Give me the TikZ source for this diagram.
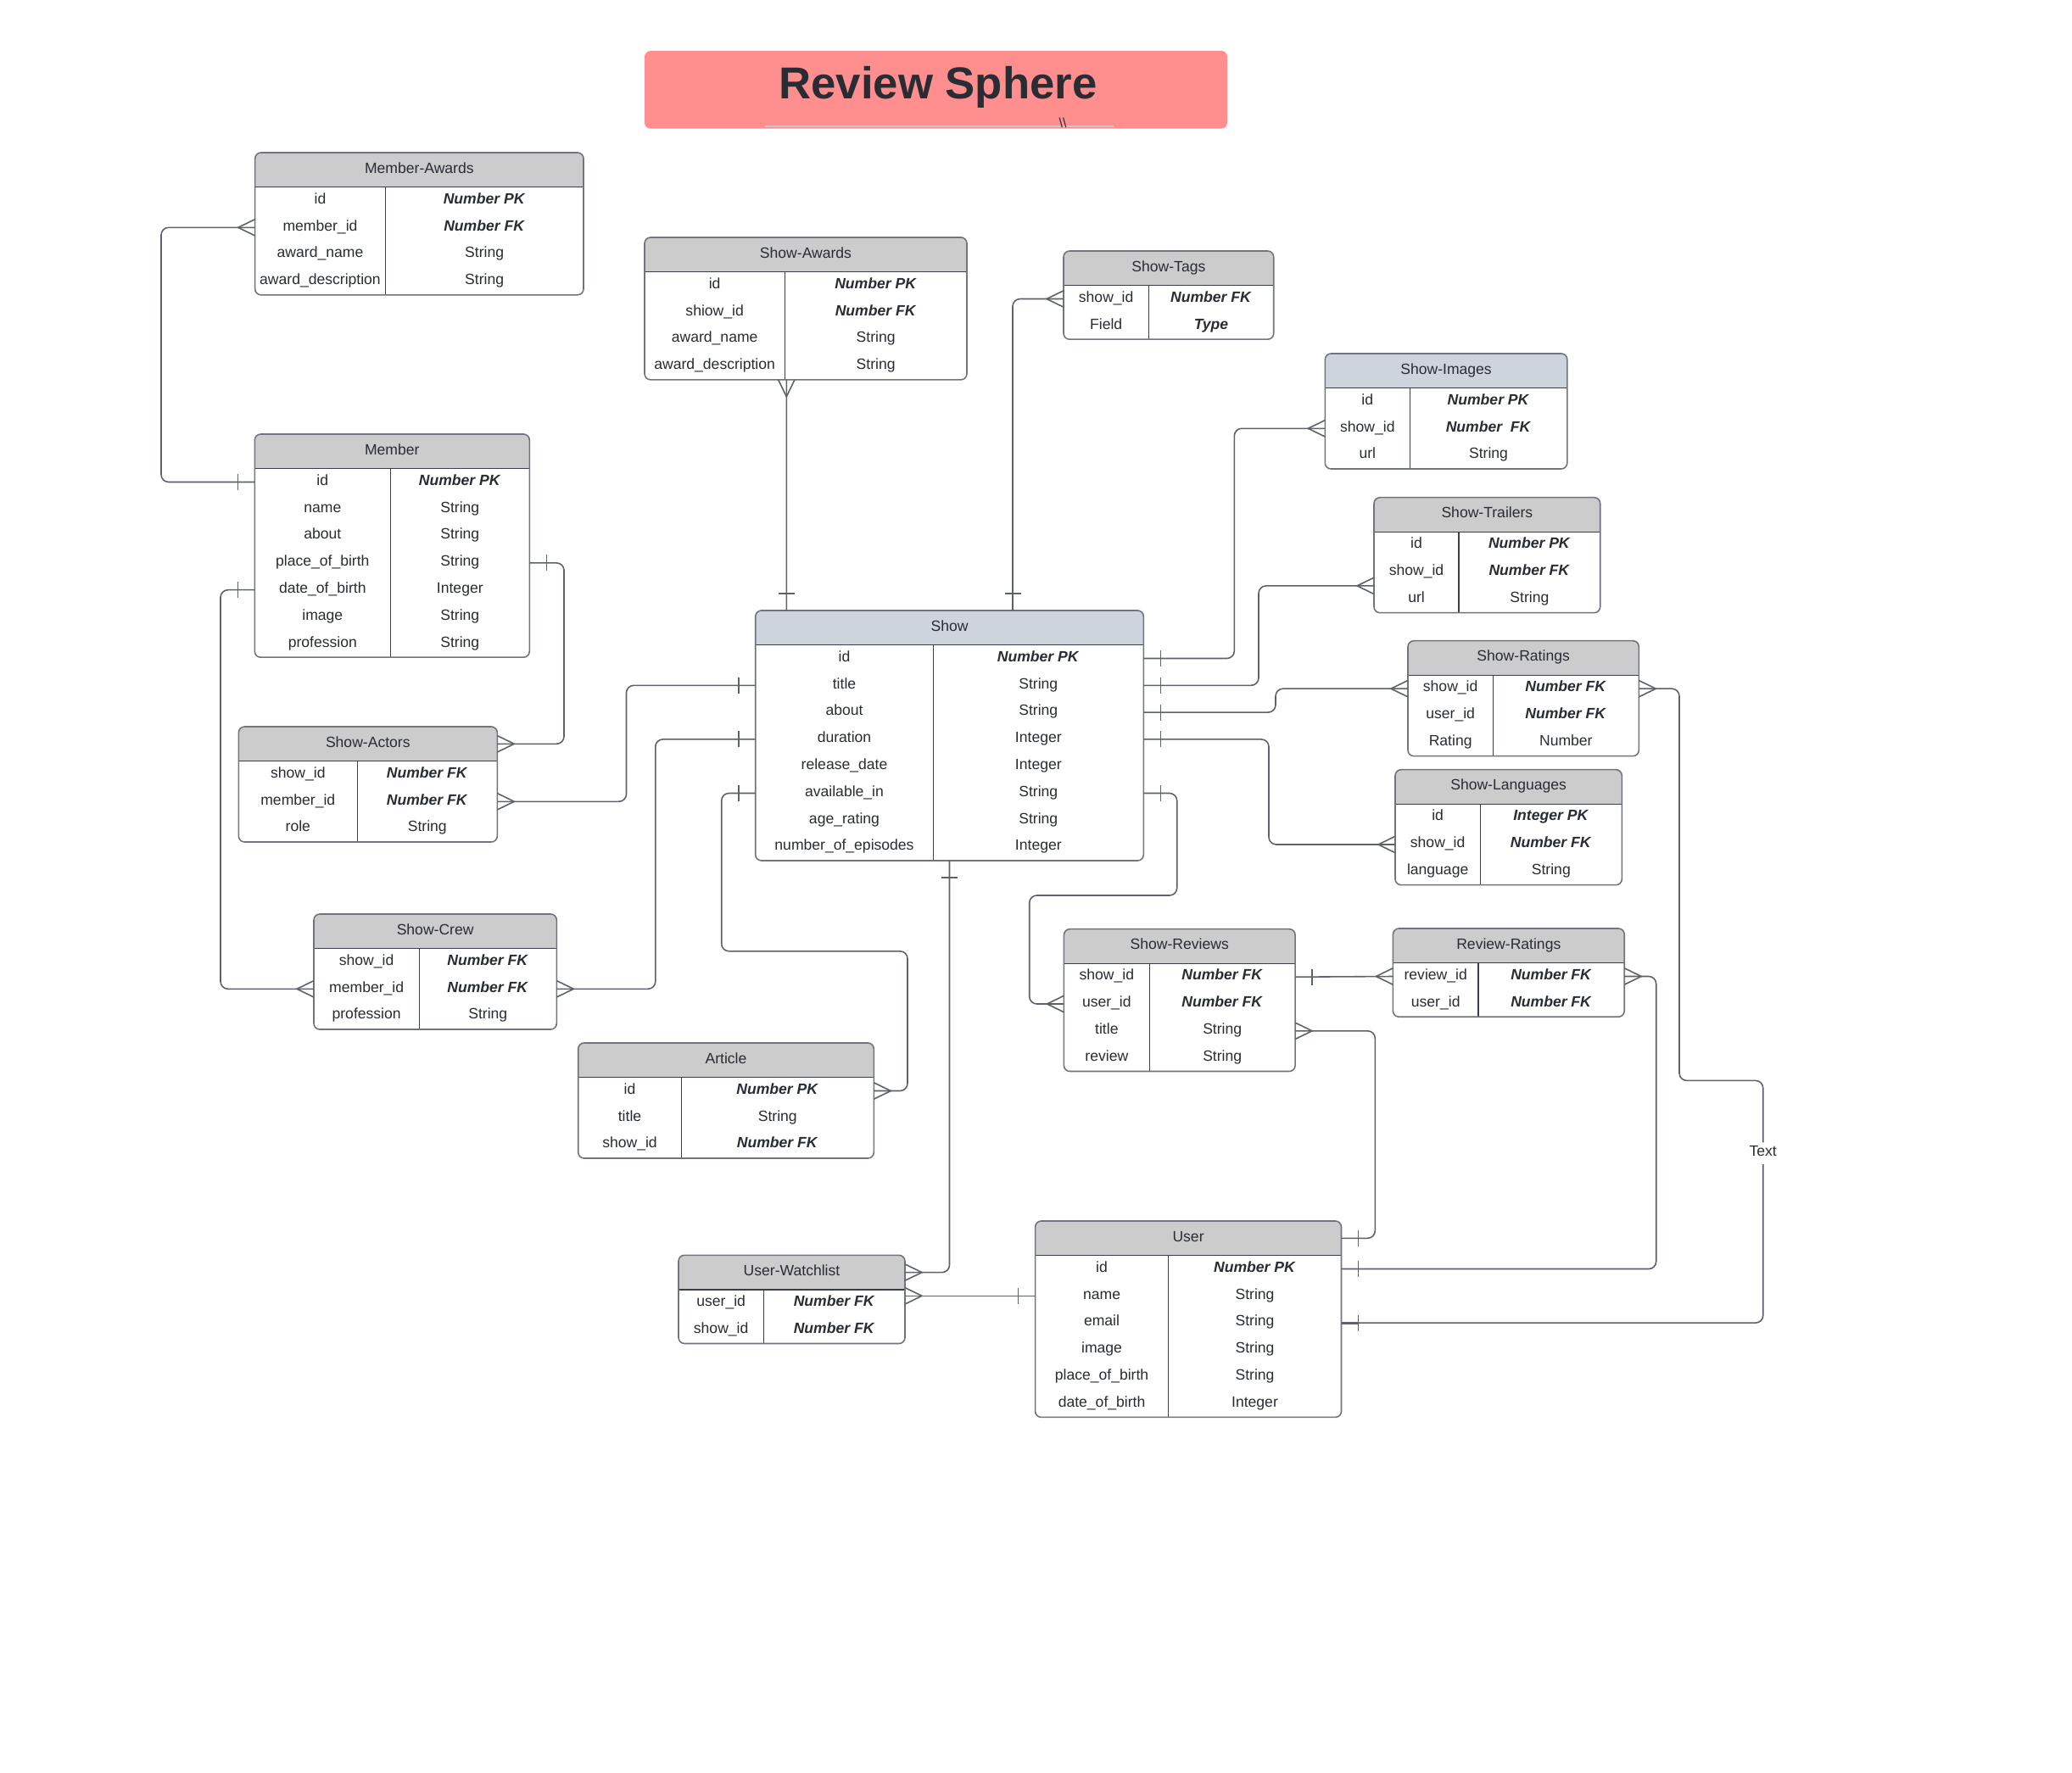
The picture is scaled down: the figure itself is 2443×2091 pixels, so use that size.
\documentclass[tikz,border=0pt]{standalone}
\usepackage{fontspec}
\setmainfont{Liberation Sans}
\usetikzlibrary{calc}

\definecolor{titlebg}{RGB}{255,142,142}
\definecolor{hdrgray}{RGB}{204,204,204}
\definecolor{hdrblue}{RGB}{206,212,221}
\definecolor{framec}{RGB}{112,116,124}
\definecolor{innerc}{RGB}{58,62,70}
\definecolor{linkc}{RGB}{92,97,106}
\definecolor{txtc}{RGB}{40,44,51}

\newcommand{\kf}[1]{\textbf{\textit{#1}}}

\tikzset{
  boxline/.style={draw=framec},
  divline/.style={draw=innerc},
  celltext/.style={text=txtc,font=\fontsize{10}{12}\selectfont,inner sep=0pt,text height=1.4ex,text depth=.6ex},
  relline/.style={draw=linkc,rounded corners=5pt},
  endmark/.style={draw=linkc,sharp corners},
  lbltext/.style={celltext,fill=white,inner sep=2pt},
  crowfoot/.pic={\draw[endmark] (0,9.7) -- (-20,0) -- (0,-9.7);},
  onebar/.pic={\draw[endmark] (-20,9.5) -- (-20,-9.5);}
}

% name, left, top, width, split, rows, header fill, title, fields
\newcommand{\erbox}[9]{%
  \pgfmathsetmacro{\erbot}{#3+\hdh+#6*\rowh}
  \begin{scope}
    \clip[rounded corners=4pt] (#2,#3) rectangle ({#2+#4},\erbot);
    \fill[white] (#2,#3) rectangle ({#2+#4},\erbot);
    \fill[#7] (#2,#3) rectangle ({#2+#4},{#3+\hdh});
  \end{scope}
  \draw[divline] (#2,{#3+\hdh}) -- ({#2+#4},{#3+\hdh});
  \draw[divline] ({#2+#5},{#3+\hdh}) -- ({#2+#5},\erbot);
  \draw[boxline,rounded corners=4pt] (#2,#3) rectangle ({#2+#4},\erbot);
  \node[celltext] (#1) at ({#2+#4/2},{#3+\hdh/2}) {#8};
  \coordinate (#1-nw) at (#2,#3);
  \coordinate (#1-sw) at (#2,\erbot);
  \coordinate (#1-s) at ({#2+#4/2},\erbot);
  \coordinate (#1-hw) at (#2,{#3+\hdh/2});
  \coordinate (#1-he) at ({#2+#4},{#3+\hdh/2});
  \foreach \fld/\typ [count=\i] in {#9} {
    \pgfmathsetmacro{\ery}{#3+\hdh+(\i-0.5)*\rowh}
    \node[celltext] (#1-l\i) at ({#2+#5/2},\ery) {\fld};
    \node[celltext] (#1-r\i) at ({(2*#2+#5+#4)/2},\ery) {\typ};
    \coordinate (#1-w\i) at (#2,\ery);
    \coordinate (#1-e\i) at ({#2+#4},\ery);
  }
}

\begin{document}
\begin{tikzpicture}[x=0.02cm,y=-0.02cm,line width=0.9pt]
\def\hdh{40.6}
\def\rowh{31.8}
\useasboundingbox (0,0) rectangle (2443,2091);
\fill[white] (0,0) rectangle (2443,2091);

\fill[titlebg,rounded corners=4pt] (760,60) rectangle (1447,151.7);
\draw[gray!45,line width=0.6pt] (901.6,149) -- (1313,149);
\node[anchor=base,text=txtc,font=\bfseries\fontsize{30}{36}\selectfont] (title) at (1106,116.7) {Review Sphere};
\node[anchor=base,text=txtc,font=\fontsize{9}{10}\selectfont,inner sep=0pt] (marks) at (1253,151) {\textbackslash\textbackslash};

\erbox{mawards}{300.7}{180}{387.3}{153.6}{4}{hdrgray}{Member-Awards}{id/\kf{Number PK}, member\_id/\kf{Number FK}, award\_name/String, award\_description/String}
\erbox{member}{300.3}{512}{324}{160}{7}{hdrgray}{Member}{id/\kf{Number PK}, name/String, about/String, place\_of\_birth/String, date\_of\_birth/Integer, image/String, profession/String}
\erbox{sawards}{760}{280}{380}{165.3}{4}{hdrgray}{Show-Awards}{id/\kf{Number PK}, shiow\_id/\kf{Number FK}, award\_name/String, award\_description/String}
\erbox{stags}{1254}{296}{247.7}{100.3}{2}{hdrgray}{Show-Tags}{show\_id/\kf{Number FK}, Field/\kf{Type}}
\erbox{show}{890.7}{720}{457.6}{209.6}{8}{hdrblue}{Show}{id/\kf{Number PK}, title/String, about/String, duration/Integer, release\_date/Integer, available\_in/String, age\_rating/String, number\_of\_episodes/Integer}
\erbox{simages}{1562.3}{417}{285.5}{100}{3}{hdrblue}{Show-Images}{id/\kf{Number PK}, show\_id/\kf{Number\ \ FK}, url/String}
\erbox{strailers}{1620}{586.7}{266.7}{100}{3}{hdrgray}{Show-Trailers}{id/\kf{Number PK}, show\_id/\kf{Number FK}, url/String}
\erbox{sratings}{1660}{755.7}{272.3}{100.3}{3}{hdrgray}{Show-Ratings}{show\_id/\kf{Number FK}, user\_id/\kf{Number FK}, Rating/Number}
\erbox{slang}{1645}{907.7}{267.3}{100.3}{3}{hdrgray}{Show-Languages}{id/\kf{Integer PK}, show\_id/\kf{Number FK}, language/String}
\erbox{sactors}{281.3}{857}{305}{140}{3}{hdrgray}{Show-Actors}{show\_id/\kf{Number FK}, member\_id/\kf{Number FK}, role/String}
\erbox{screw}{370}{1078}{286.3}{124.3}{3}{hdrgray}{Show-Crew}{show\_id/\kf{Number FK}, member\_id/\kf{Number FK}, profession/String}
\erbox{article}{681.7}{1230}{348.6}{121.6}{3}{hdrgray}{Article}{id/\kf{Number PK}, title/String, show\_id/\kf{Number FK}}
\erbox{uwatch}{800}{1480.3}{267}{100.3}{2}{hdrgray}{User-Watchlist}{user\_id/\kf{Number FK}, show\_id/\kf{Number FK}}
\erbox{sreviews}{1254.4}{1095.7}{272.7}{100.9}{4}{hdrgray}{Show-Reviews}{show\_id/\kf{Number FK}, user\_id/\kf{Number FK}, title/String, review/String}
\erbox{rratings}{1642.4}{1095}{272.8}{100.6}{2}{hdrgray}{Review-Ratings}{review\_id/\kf{Number FK}, user\_id/\kf{Number FK}}
\erbox{user}{1220.6}{1440}{360.9}{156.9}{6}{hdrgray}{User}{id/\kf{Number PK}, name/String, email/String, image/String, place\_of\_birth/String, date\_of\_birth/Integer}

\coordinate (awfoot) at ($(sawards-sw)+(167.3,0)$);
\coordinate (awtop) at ($(show-nw)+(36.6,0)$);
\coordinate (tagtop) at ($(show-nw)+(303.3,0)$);
\coordinate (trlin) at ($(strailers-w2)!.5!(strailers-w3)$);
\coordinate (wlin) at (user-w2 -| uwatch-e1);

% relations
\draw[relline] (mawards-w2) -- ++(-110.7,0) |- (member-w1);
\draw[relline] (member-w5) -- ++(-40.3,0) |- (screw-w2);
\draw[relline] (member-e4) -- ++(40.7,0) |- (sactors-he);
\draw[relline] (sactors-e2) -- ++(152.2,0) |- (show-w2);
\draw[relline] (screw-e2) -- ++(116.5,0) |- (show-w4);
\draw[relline] (article-e1) -- ++(39.7,0) -- ++(0,-164.7) -- ++(-219.3,0) |- (show-w6);
\draw[relline] (show-s) |- (uwatch-he);
\draw[relline] (wlin) -- (user-w2);
\draw[relline] (awfoot) -- (awtop);
\draw[relline] (stags-w1) -| (tagtop);
\draw[relline] (simages-w2) -- ++(-107,0) |- (show-e1);
\draw[relline] (trlin) -- ++(-136,0) |- (show-e2);
\draw[relline] (show-e3) -- ++(155.7,0) |- (sratings-w1);
\draw[relline] (slang-w2) -- ++(-149,0) |- (show-e4);
\draw[relline] (show-e6) -- ++(39.4,0) -- ++(0,120.5) -- ++(-174,0) |- (sreviews-w2);
\draw[relline] (sreviews-e1) -- (rratings-w1);
\draw[relline] (sreviews-e3) -- ++(94.2,0) |- (user-he);
\draw[relline] (rratings-e1) -- ++(37.5,0) |- (user-e1);
\draw[relline] (sratings-e1) -- ++(47.7,0) -- ++(0,462.2) -- ++(98.7,0) |- node[lbltext,pos=.15] (txt) {Text} (user-e3);

\pic at (mawards-w2) {crowfoot};
\pic at (member-w1) {onebar};
\pic at (member-w5) {onebar};
\pic at (screw-w2) {crowfoot};
\pic[rotate=180] at (member-e4) {onebar};
\pic[rotate=180] at (sactors-he) {crowfoot};
\pic[rotate=180] at (sactors-e2) {crowfoot};
\pic at (show-w2) {onebar};
\pic[rotate=180] at (screw-e2) {crowfoot};
\pic at (show-w4) {onebar};
\pic[rotate=180] at (article-e1) {crowfoot};
\pic at (show-w6) {onebar};
\pic[rotate=90] at (show-s) {onebar};
\pic[rotate=180] at (uwatch-he) {crowfoot};
\pic[rotate=180] at (wlin) {crowfoot};
\pic at (user-w2) {onebar};
\pic[rotate=90] at (awfoot) {crowfoot};
\pic[rotate=-90] at (awtop) {onebar};
\pic at (stags-w1) {crowfoot};
\pic[rotate=-90] at (tagtop) {onebar};
\pic at (simages-w2) {crowfoot};
\pic[rotate=180] at (show-e1) {onebar};
\pic at (trlin) {crowfoot};
\pic[rotate=180] at (show-e2) {onebar};
\pic[rotate=180] at (show-e3) {onebar};
\pic at (sratings-w1) {crowfoot};
\pic at (slang-w2) {crowfoot};
\pic[rotate=180] at (show-e4) {onebar};
\pic[rotate=180] at (show-e6) {onebar};
\pic at (sreviews-w2) {crowfoot};
\pic[rotate=180] at (sreviews-e1) {onebar};
\pic at (rratings-w1) {crowfoot};
\pic[rotate=180] at (sreviews-e3) {crowfoot};
\pic[rotate=180] at (user-he) {onebar};
\pic[rotate=180] at (rratings-e1) {crowfoot};
\pic[rotate=180] at (user-e1) {onebar};
\pic[rotate=180] at (sratings-e1) {crowfoot};
\pic[rotate=180] at (user-e3) {onebar};
\draw[draw=linkc,line width=1.6pt] (user-e3) -- ++(20,0);
\end{tikzpicture}
\end{document}
